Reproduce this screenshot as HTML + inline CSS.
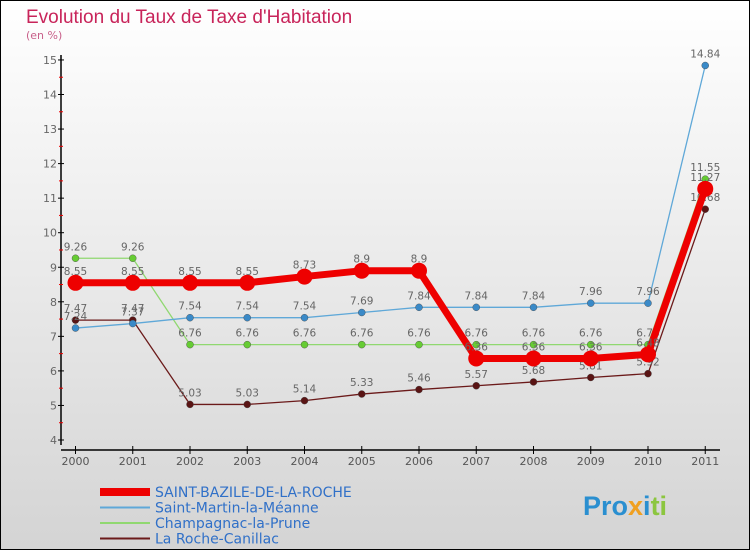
<!DOCTYPE html>
<html><head><meta charset="utf-8"><style>
body{margin:0}
svg{display:block;font-family:"DejaVu Sans","Liberation Sans",sans-serif}
</style></head><body>
<svg width="750" height="550">
<defs><linearGradient id="bg" x1="0" y1="0" x2="0" y2="1"><stop offset="0" stop-color="#ffffff"/><stop offset="1" stop-color="#d4d4d4"/></linearGradient></defs>
<rect x="0.5" y="0.5" width="749" height="549" fill="url(#bg)" stroke="#000"/>
<text x="26" y="23" font-size="19" fill="#c8245a" font-family="Liberation Sans,sans-serif">Evolution du Taux de Taxe d'Habitation</text>
<text x="26" y="39" font-size="11" fill="#c8608a">(en %)</text>
<g id="axes"></g>
<g id="series"></g>
<g id="legend"></g>
<text x="583" y="515" font-size="27" font-weight="bold" font-family="Liberation Sans,sans-serif"><tspan fill="#2a8fd0">Pro</tspan><tspan fill="#f0a020">x</tspan><tspan fill="#2a8fd0">i</tspan><tspan fill="#8cc63f">ti</tspan></text>
</svg>
<script>
const years=["2000","2001","2002","2003","2004","2005","2006","2007","2008","2009","2010","2011"];
const yTicks=[4,5,6,7,8,9,10,11,12,13,14,15];
const bazile=[8.55,8.55,8.55,8.55,8.73,8.9,8.9,6.36,6.36,6.36,6.48,11.27];
const martin=[7.24,7.37,7.54,7.54,7.54,7.69,7.84,7.84,7.84,7.96,7.96,14.84];
const champ=[9.26,9.26,6.76,6.76,6.76,6.76,6.76,6.76,6.76,6.76,6.76,11.55];
const roche=[7.47,7.47,5.03,5.03,5.14,5.33,5.46,5.57,5.68,5.81,5.92,10.68];
const names=["SAINT-BAZILE-DE-LA-ROCHE","Saint-Martin-la-Méanne","Champagnac-la-Prune","La Roche-Canillac"];
const NS="http://www.w3.org/2000/svg";
const X=i=>75.5+i*57.25, Y=v=>440-(v-4)*34.55;
function mk(t,a,p){const e=document.createElementNS(NS,t);for(const k in a)e.setAttribute(k,a[k]);p.appendChild(e);return e;}
const ax=document.getElementById('axes');
let l=mk('line',{x1:61,y1:55,x2:61,y2:445,stroke:'#000','stroke-width':1.5},ax);


l=mk('line',{x1:61,y1:450,x2:720,y2:450,stroke:'#000','stroke-width':1.5},ax);


yTicks.forEach(v=>{mk('line',{x1:58,y1:Y(v),x2:64,y2:Y(v),stroke:'#000'},ax);
 if(v<15)mk('line',{x1:59,y1:Y(v+0.5),x2:63,y2:Y(v+0.5),stroke:'#e00'},ax);
 const t=mk('text',{x:57,y:Y(v)+4,'font-size':11,fill:'#666','text-anchor':'end'},ax);t.textContent=v;
 
 });
years.forEach((y,i)=>{mk('line',{x1:X(i),y1:446,x2:X(i),y2:454,stroke:'#000'},ax);
 const t=mk('text',{x:X(i),y:465,'font-size':11,fill:'#555','text-anchor':'middle'},ax);t.textContent=y;
 
 });
const sg=document.getElementById('series');
const specs=[[roche,'#6b1a1a','#5a1414',1.3,3.5],[champ,'#90d870','#66cc33',1.3,3.5],[martin,'#5fa8d8','#3a8ac8',1.3,3.5],[bazile,'#ee0000','#ee0000',7,8]];
const snames=['series-la-roche-canillac','series-champagnac-la-prune','series-saint-martin-la-meanne','series-saint-bazile-de-la-roche'];
specs.forEach((s,k)=>{const g=mk('g',{},sg);
 
 
 mk('polyline',{points:s[0].map((v,i)=>X(i)+','+Y(v)).join(' '),fill:'none',stroke:s[1],'stroke-width':s[3]},g);
 s[0].forEach((v,i)=>{const c=mk('circle',{cx:X(i),cy:Y(v),r:s[4],fill:s[2],stroke:'#444','stroke-width':k==3?0:0.4},g);
  
  
  const t=mk('text',{x:X(i),y:Y(v)-8,'font-size':10.5,fill:'#666','text-anchor':'middle'},g);t.textContent=v;});
});
const lg=document.getElementById('legend');
const lc=['#ee0000','#5fa8d8','#90d870','#6b1a1a'],lw=[8,2,2,2];
names.forEach((n,k)=>{const y=492+k*15.5;
 mk('line',{x1:100,y1:y,x2:150,y2:y,stroke:lc[k],'stroke-width':lw[k]},lg);
 const t=mk('text',{x:155,y:y+5,'font-size':14,fill:'#3070c8'},lg);t.textContent=n;
 
 });
</script>
</body></html>
